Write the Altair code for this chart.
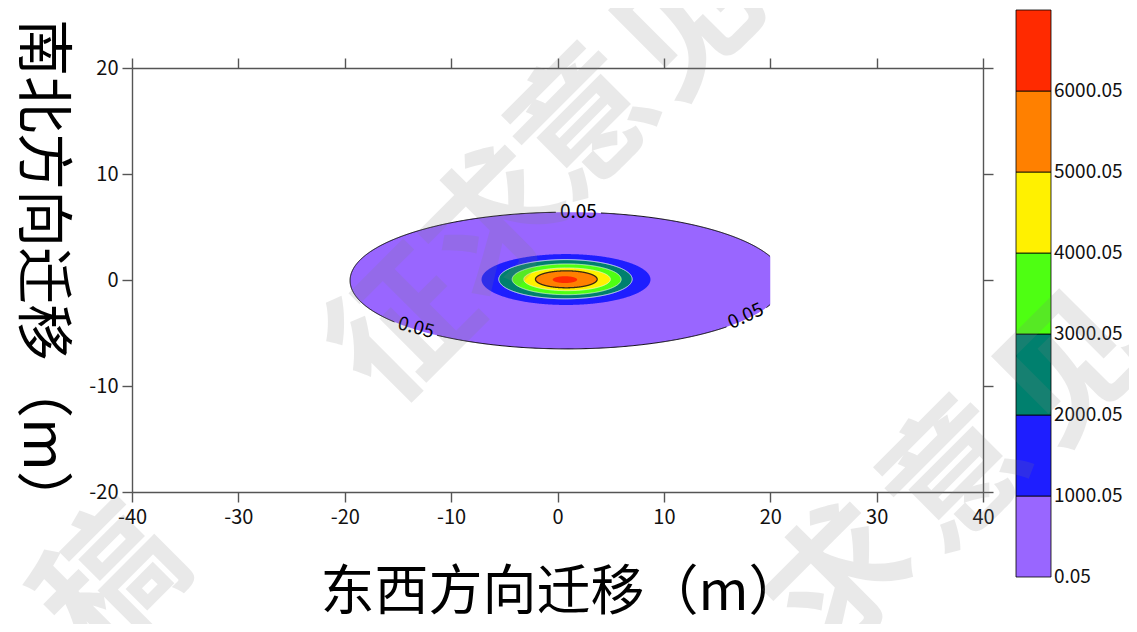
import altair as alt
import numpy as np
import pandas as pd

FONT = "Noto Sans CJK SC"

# ---------------- data ----------------
levels = [0.05, 1000.05, 2000.05, 3000.05, 4000.05, 5000.05, 6000.05, 7000.05]
level_labels = ["0.05", "1000.05", "2000.05", "3000.05", "4000.05", "5000.05", "6000.05"]
band_colors = ["#9966FF", "#1E1EFF", "#00806E", "#4EFF12", "#FFF100", "#FF8000", "#FF2A00"]

# contour ellipse of each level (0.05 ... 6000.05): centre and half axes (m)
ell_cx = [0.9, 0.8, 0.75, 0.86, 0.9, 0.83, 0.7]
ell_cy = [-0.05, 0.045, 0.075, 0.065, 0.065, 0.065, 0.035]
ell_a = [20.4, 7.94, 6.27, 5.12, 4.07, 2.9, 1.15]
ell_b = [6.45, 2.4, 1.85, 1.45, 1.07, 0.8, 0.32]
grid_xmin, grid_xmax = -20.0, 20.0

# contour line styling per level
outline_color = ["#000000", None, "#F2F2FF", "#E6F5E6", "#F5F5DC", "#3A2A10", None]
outline_width = [1.0, 0, 1.0, 0.8, 0.8, 1.3, 0]

# "0.05" contour labels
label_x = [1.97, -13.3, 17.7]
label_y = [6.4, -4.5, -3.4]
label_angle = [0, 15, 335]
label_text = ["0.05", "0.05", "0.05"]

x_ticks = [-40, -30, -20, -10, 0, 10, 20, 30, 40]
y_ticks = [-20, -10, 0, 10, 20]

W, H = 851, 424
PX_X, PX_Y = W / 80.0, H / 40.0

xs = alt.Scale(domain=[-40, 40], nice=False, zero=False)
ys = alt.Scale(domain=[-20, 20], nice=False, zero=False)

AX = dict(grid=False, domainColor="#555555", domainWidth=1.4, tickColor="#555555",
          tickWidth=1.4, tickSize=10, labelFont=FONT, labelFontSize=20,
          labelColor="#111111", labelExpr="toString(datum.value)",
          labelFlush=False, labelOverlap=False)

ax_bottom = alt.Axis(orient="bottom", values=x_ticks, labelPadding=5,
                     title="东西方向迁移（m）", titleFont=FONT, titleFontSize=54,
                     titleFontWeight="normal", titleColor="#000000",
                     titleX=429, titleY=101, titleAlign="center",
                     titleBaseline="middle", **AX)
ax_left = alt.Axis(orient="left", values=y_ticks, labelPadding=4,
                   title="南北方向迁移（m）", titleFont=FONT, titleFontSize=57,
                   titleFontWeight="normal", titleColor="#000000",
                   titleAngle=90, titleX=-92, titleY=205, titleAlign="center",
                   titleBaseline="middle", **AX)
ax_top = alt.Axis(orient="top", values=x_ticks, labels=False, title=None, **AX)
ax_right = alt.Axis(orient="right", values=y_ticks, labels=False, title=None, **AX)


def fill_frame(i):
    cx, cy, a, b = ell_cx[i], ell_cy[i], ell_a[i], ell_b[i]
    t = np.linspace(0, np.pi, 361)
    x = cx + a * np.cos(t)
    h = b * np.sin(t)
    keep = (x <= grid_xmax) & (x >= grid_xmin)
    x, h = list(x[keep]), list(h[keep])
    if cx + a > grid_xmax:
        x.append(grid_xmax)
        h.append(b * np.sqrt(max(0.0, 1 - ((grid_xmax - cx) / a) ** 2)))
    df = pd.DataFrame({"x": x, "h": h})
    df["top"] = cy + df["h"]
    df["bot"] = cy - df["h"]
    return df.sort_values("x").reset_index(drop=True)


def outline_frame(i, gaps):
    cx, cy, a, b = ell_cx[i], ell_cy[i], ell_a[i], ell_b[i]
    t = np.linspace(0, 2 * np.pi, 1441)
    x = cx + a * np.cos(t)
    y = cy + b * np.sin(t)
    vis = x <= grid_xmax
    for lx, ly in gaps:
        d = np.hypot((x - lx) * PX_X, (y - ly) * PX_Y)
        vis &= d >= 22
    seg = np.cumsum(np.r_[0, np.diff(vis.astype(int)) != 0])
    df = pd.DataFrame({"x": x, "y": y, "seg": seg, "o": np.arange(len(x))})
    return df[vis]


layers = []
for i in range(7):
    df = fill_frame(i)
    enc = dict(
        x=alt.X("x:Q", scale=xs, axis=ax_bottom if i == 0 else None),
        y=alt.Y("top:Q", scale=ys, axis=ax_left if i == 0 else None),
        y2="bot:Q",
    )
    layers.append(alt.Chart(df).mark_area(color=band_colors[i], opacity=1,
                                          interpolate="linear").encode(**enc))

first_line = True
for i in range(7):
    if outline_color[i] is None:
        continue
    gaps = list(zip(label_x, label_y)) if i == 0 else []
    df = outline_frame(i, gaps)
    layers.append(
        alt.Chart(df).mark_line(color=outline_color[i], strokeWidth=outline_width[i]).encode(
            x=alt.X("x:Q", scale=xs, axis=ax_top if first_line else None),
            y=alt.Y("y:Q", scale=ys, axis=ax_right if first_line else None),
            detail="seg:N",
            order="o:Q",
        )
    )
    first_line = False

lab_df = pd.DataFrame({"x": label_x, "y": label_y, "ang": label_angle, "t": label_text})
layers.append(
    alt.Chart(lab_df).mark_text(font=FONT, fontSize=19, color="#000000",
                                baseline="middle", align="center").encode(
        x=alt.X("x:Q", scale=xs, axis=None),
        y=alt.Y("y:Q", scale=ys, axis=None),
        angle=alt.Angle("ang:Q", scale=None),
        text="t:N",
    )
)

main = alt.layer(*layers).resolve_axis(x="independent", y="independent")

# ---------------- colour bar ----------------
cb_df = pd.DataFrame({"lo": levels[:-1], "hi": levels[1:], "c": band_colors,
                      "lab": level_labels})
cb_y = alt.Scale(domain=[levels[0], levels[-1]], range=[509, -58], nice=False, zero=False)
cb_x = alt.Scale(domain=[0, 1], range=[884, 919], nice=False, zero=False)

cb_rect = alt.Chart(cb_df).mark_rect(stroke="#000000", strokeWidth=0.8).encode(
    y=alt.Y("lo:Q", scale=cb_y, axis=None),
    y2="hi:Q",
    x=alt.X(datum=0, type="quantitative", scale=cb_x, axis=None),
    x2=alt.X2(datum=1),
    fill=alt.Color("c:N", scale=None),
)
cb_text = alt.Chart(cb_df).mark_text(font=FONT, fontSize=19, color="#111111",
                                     align="left", baseline="middle", dx=3).encode(
    y=alt.Y("lo:Q", scale=cb_y, axis=None),
    x=alt.X(datum=1, type="quantitative", scale=cb_x, axis=None),
    text="lab:N",
)
cbar = alt.layer(cb_rect, cb_text)

# ---------------- watermark 征求意见稿 ----------------
wm_layout = [
    ("征", 275, 262), ("求", 368, 160), ("意", 456, 58), ("见", 560, -42),
    ("求", 713, 517), ("意", 828, 410), ("见", 943, 304),
    ("稿", -17, 517),
]
wm_layers = []
for ch, px, py in wm_layout:
    wm_layers.append(
        alt.Chart(pd.DataFrame({"t": [ch]})).mark_text(
            font=FONT, fontSize=140, fontWeight="bold", color="#808080",
            opacity=0.17, angle=315, align="center", baseline="middle").encode(
            text="t:N", x=alt.value(px), y=alt.value(py))
    )

chart = alt.layer(main, cbar, *wm_layers).resolve_scale(
    x="independent", y="independent"
).properties(
    width=W, height=H,
    autosize=alt.AutoSizeParams(type="none"),
    padding={"left": 124, "top": 60, "right": 146, "bottom": 132},
).configure_view(stroke=None).configure(background="white")

chart.save("out.html", embed_options={"renderer": "svg", "actions": False})
